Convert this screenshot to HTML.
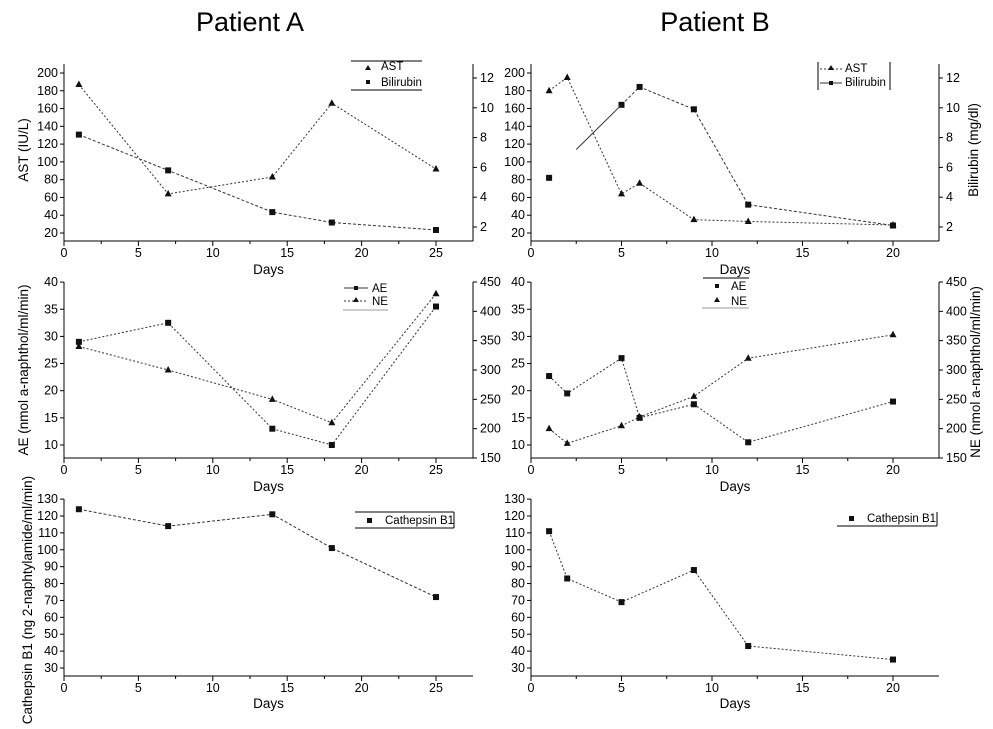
<!DOCTYPE html>
<html><head><meta charset="utf-8"><style>
body{margin:0;background:#fff}
svg{display:block;font-family:"Liberation Sans",Arial,sans-serif}
</style></head><body>
<svg id="s" width="993" height="729" xmlns="http://www.w3.org/2000/svg">
<text x="250" y="31" font-size="27" text-anchor="middle">Patient A</text>
<text x="715" y="31" font-size="27" text-anchor="middle">Patient B</text>
</svg>
<script>
const S=document.getElementById('s');let h='';
function ax(o){
 const px=d=>o.x0+d*o.k;
 h+=`<line x1="${o.x0}" y1="${o.yb}" x2="${o.xr}" y2="${o.yb}" stroke="#000"/>`;
 h+=`<line x1="${o.x0}" y1="${o.yb}" x2="${o.x0}" y2="${o.yt}" stroke="#000"/>`;
 for(let d=0;d<=o.dmax;d+=2.5){const x=px(d);const maj=d%5==0;
  h+=`<line x1="${x}" y1="${o.yb}" x2="${x}" y2="${o.yb+(maj?5:3)}" stroke="#000"/>`;
  if(maj)h+=`<text x="${x}" y="${o.yb+16}" font-size="12.5" text-anchor="middle">${d}</text>`;}
 h+=`<text x="${(o.x0+o.xr)/2}" y="${o.yb+(o.dl||33)}" font-size="13.5" text-anchor="middle">Days</text>`;
 o.yt2.forEach(([v,y])=>{h+=`<line x1="${o.x0-4}" y1="${y}" x2="${o.x0}" y2="${y}" stroke="#000"/><text x="${o.x0-6}" y="${y+4}" font-size="12.5" text-anchor="end">${v}</text>`;});
 if(o.ry){h+=`<line x1="${o.xr}" y1="${o.yb}" x2="${o.xr}" y2="${o.yt}" stroke="#000"/>`;
  o.ry.forEach(([v,y])=>{h+=`<line x1="${o.xr}" y1="${y}" x2="${o.xr+4}" y2="${y}" stroke="#000"/><text x="${o.xr+7}" y="${y+4}" font-size="12.5">${v}</text>`;});}
 return px;
}
function ser(px,py,pts,mk,dash){
 const p=pts.map(([d,v])=>[px(d),py(v)]);
 h+=`<polyline points="${p.map(a=>a.join(',')).join(' ')}" fill="none" stroke="#333" stroke-width="1" stroke-dasharray="${dash||'2,2'}"/>`;
 p.forEach(([x,y])=>{h+=mk=='t'?`<polygon points="${x},${y-4} ${x-3.5},${y+2.5} ${x+3.5},${y+2.5}" fill="#111"/>`:`<rect x="${x-3}" y="${y-3}" width="6" height="6" fill="#111"/>`;});
}
function rl(x,y,t,f){h+=`<text transform="translate(${x},${y}) rotate(-90)" font-size="${f||13.5}" text-anchor="middle">${t}</text>`;}
const rng=(a,b,s)=>{let r=[];for(let v=a;v<=b;v+=s)r.push(v);return r;};
const y1=v=>233-(v-20)*0.8889, r1=v=>227-(v-2)*14.9;
const L1=rng(20,200,20).map(v=>[v,y1(v)]), R1=[2,4,6,8,10,12].map(v=>[v,r1(v)]);
let pA=ax({x0:64,k:14.88,xr:473,dmax:25,yb:241,yt:64,yt2:L1,ry:R1});
ser(pA,y1,[[1,187],[7,64],[14,83],[18,166],[25,92]],'t');
ser(pA,r1,[[1,8.2],[7,5.8],[14,3.0],[18,2.3],[25,1.8]],'s','3,2');
let pB=ax({x0:531,k:18.1,xr:939,dmax:20,yb:241,yt:64,yt2:L1,ry:R1});
ser(pB,y1,[[1,180],[2,195],[5,64],[6,76],[9,35],[12,33],[20,29]],'t');
ser(pB,r1,[[5,10.2],[6,11.4],[9,9.9],[12,3.5],[20,2.1]],'s','3,2');
ser(pB,r1,[[1,5.3]],'s');
h+=`<line x1="${pB(2.5)}" y1="${r1(7.2)}" x2="${pB(5)}" y2="${r1(10.2)}" stroke="#333"/>`;
rl(28,150,'AST (IU/L)');rl(978,150,'Bilirubin (mg/dl)');
h+=`<line x1="351" y1="61" x2="422" y2="61" stroke="#000"/><line x1="351" y1="90" x2="422" y2="90" stroke="#000"/>
<polygon points="368,65 365,70 371,70" fill="#111"/><text x="381" y="70" font-size="11.5">AST</text>
<rect x="366" y="80" width="4" height="4" fill="#111"/><text x="381" y="86" font-size="11.5">Bilirubin</text>
<line x1="818" y1="62" x2="818" y2="90" stroke="#000"/><line x1="890" y1="62" x2="890" y2="90" stroke="#000"/>
<line x1="820" y1="69" x2="842" y2="69" stroke="#333" stroke-dasharray="2,2"/><polygon points="831,65 828,70 834,70" fill="#111"/><text x="845" y="72" font-size="11.5">AST</text>
<line x1="820" y1="83" x2="842" y2="83" stroke="#333"/><rect x="829" y="81" width="4" height="4" fill="#111"/><text x="845" y="86" font-size="11.5">Bilirubin</text>
<line x1="703" y1="278" x2="749" y2="278" stroke="#000"/>`;
const y2=v=>445-(v-10)*5.43, r2=v=>458-(v-150)*0.5867;
const L2=rng(10,40,5).map(v=>[v,y2(v)]), R2=rng(150,450,50).map(v=>[v,r2(v)]);
pA=ax({x0:64,k:14.88,xr:473,dmax:25,yb:458,yt:282,yt2:L2,ry:R2});
ser(pA,y2,[[1,29],[7,32.5],[14,13],[18,10],[25,35.5]],'s');
ser(pA,r2,[[1,340],[7,300],[14,250],[18,210],[25,430]],'t');
pB=ax({x0:531,k:18.1,xr:939,dmax:20,yb:458,yt:282,yt2:L2,ry:R2});
ser(pB,y2,[[1,22.7],[2,19.5],[5,26],[6,15],[9,17.5],[12,10.5],[20,18]],'s');
ser(pB,r2,[[1,200],[2,175],[5,205],[6,220],[9,255],[12,320],[20,360]],'t');
rl(28,370,'AE (nmol a-naphthol/ml/min)');rl(980,372,'NE (nmol a-naphthol/ml/min)');
h+=`<line x1="344" y1="288" x2="368" y2="288" stroke="#333"/><rect x="354" y="286" width="4" height="4" fill="#111"/><text x="372" y="292" font-size="11.5">AE</text>
<line x1="344" y1="301" x2="368" y2="301" stroke="#333" stroke-dasharray="2,2"/><polygon points="356,297 353,302 359,302" fill="#111"/><text x="372" y="305" font-size="11.5">NE</text>
<line x1="343" y1="310" x2="388" y2="310" stroke="#999"/>
<rect x="715" y="284" width="4" height="4" fill="#111"/><text x="731" y="290" font-size="11.5">AE</text>
<polygon points="717,297 714,302 720,302" fill="#111"/><text x="731" y="305" font-size="11.5">NE</text>
<line x1="702" y1="308" x2="749" y2="308" stroke="#999"/>`;
const y3=v=>668-(v-30)*1.689;
const L3=rng(30,130,10).map(v=>[v,y3(v)]);
pA=ax({x0:64,k:14.88,xr:473,dmax:25,yb:676,yt:499,yt2:L3,dl:32});
ser(pA,y3,[[1,124],[7,114],[14,121],[18,101],[25,72]],'s','3,2');
pB=ax({x0:531,k:18.1,xr:939,dmax:20,yb:676,yt:499,yt2:L3,dl:32});
ser(pB,y3,[[1,111],[2,83],[5,69],[9,88],[12,43],[20,35]],'s','2,2');
rl(32,600,'Cathepsin B1 (ng 2-naphtylamide/ml/min)');
h+=`<line x1="355" y1="512" x2="454" y2="512" stroke="#000"/><line x1="355" y1="528" x2="454" y2="528" stroke="#000"/><line x1="454" y1="512" x2="454" y2="528" stroke="#000"/>
<rect x="367" y="518" width="5" height="5" fill="#111"/><text x="385" y="524" font-size="11.5">Cathepsin B1</text>
<line x1="837" y1="526" x2="937" y2="526" stroke="#000"/><line x1="937" y1="512" x2="937" y2="526" stroke="#000"/>
<rect x="849" y="516" width="5" height="5" fill="#111"/><text x="867" y="522" font-size="11.5">Cathepsin B1</text>`;
S.insertAdjacentHTML('beforeend',h);
</script>
</body></html>
